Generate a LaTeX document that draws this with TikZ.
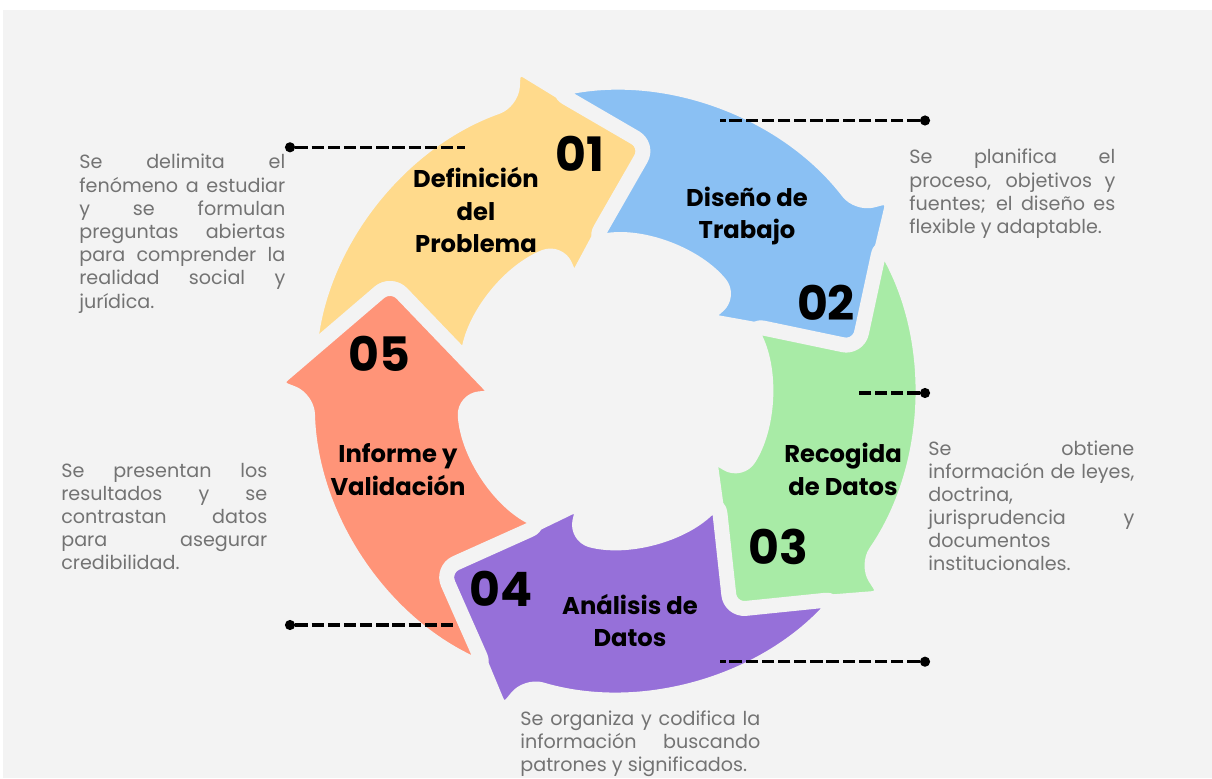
\documentclass[tikz,border=0pt]{standalone}
\usepackage{fontspec}
\setmainfont{Poppins}
\definecolor{bgray}{HTML}{F3F3F3}
\definecolor{cyellow}{HTML}{FFDA8C}
\definecolor{cblue}{HTML}{8AC0F3}
\definecolor{cgreen}{HTML}{A8EBA6}
\definecolor{cpurple}{HTML}{9670D9}
\definecolor{corange}{HTML}{FF9478}
\definecolor{txtgray}{HTML}{737373}

\begin{document}
\begin{tikzpicture}[x=0.02cm, y=0.02cm,
        seg/.style={draw=bgray, line width=8.5pt, line join=round, rounded corners=8.8pt},
        num/.style={font=\fontsize{27}{27}\selectfont\bfseries},
        lbl/.style={font=\fontsize{13.8}{18.7}\selectfont\bfseries, align=center},
        desc/.style={font=\fontsize{10.9}{13.2}\selectfont, text=txtgray, align=justify,
            text width=4.12cm, inner sep=0pt, anchor=base west},
        lead/.style={line width=1.8pt, dash pattern=on 7pt off 2.2pt},
        dot/.style={circle, fill=black, inner sep=0pt, minimum size=5.8pt}]
        
        \fill[white] (0,0) rectangle (1212,778);
        \fill[bgray] (3,0) rectangle (1212,768);
        
        % the five arrows of the cycle
        \begin{scope}[shift={(614,387)}, rotate=0]
            \path[seg, fill=cyellow] (173.4:307) arc[start angle=173.4, end angle=109.5, radius=307]
                -- (107:343) -- (82:248) -- (111:113) -- (111.5:150)
                arc[start angle=111.5, end angle=170.1, radius=150] -- (154:248) -- cycle;
        \end{scope}
        \begin{scope}[shift={(614,387)}, rotate=-72]
            \path[seg, fill=cblue] (173.4:307) arc[start angle=173.4, end angle=109.5, radius=307]
                -- (107:343) -- (82:248) -- (111:113) -- (111.5:150)
                arc[start angle=111.5, end angle=170.1, radius=150] -- (154:248) -- cycle;
        \end{scope}
        \begin{scope}[shift={(614,387)}, rotate=-144]
            \path[seg, fill=cgreen] (173.4:307) arc[start angle=173.4, end angle=109.5, radius=307]
                -- (107:343) -- (82:248) -- (111:113) -- (111.5:150)
                arc[start angle=111.5, end angle=170.1, radius=150] -- (154:248) -- cycle;
        \end{scope}
        \begin{scope}[shift={(614,387)}, rotate=-216]
            \path[seg, fill=cpurple] (173.4:307) arc[start angle=173.4, end angle=109.5, radius=307]
                -- (107:343) -- (82:248) -- (111:113) -- (111.5:150)
                arc[start angle=111.5, end angle=170.1, radius=150] -- (154:248) -- cycle;
        \end{scope}
        \begin{scope}[shift={(614,387)}, rotate=-288]
            \path[seg, fill=corange] (173.4:307) arc[start angle=173.4, end angle=109.5, radius=307]
                -- (107:343) -- (82:248) -- (111:113) -- (111.5:150)
                arc[start angle=111.5, end angle=170.1, radius=150] -- (154:248) -- cycle;
        \end{scope}
        
        % numbers and titles
        \node[num] (n1) at (580,624.5) {01};
        \node[num] (n2) at (826,475.5) {02};
        \node[num] (n3) at (778,231) {03};
        \node[num] (n4) at (501,189) {04};
        \node[num] (n5) at (379.5,424) {05};
        
        \node[lbl] (l1) at (476,568) {Definición\\del\\Problema};
        \node[lbl] (l2) at (747,562) {Diseño de\\Trabajo};
        \node[lbl] (l3) at (843,308.5) {Recogida\\de Datos};
        \node[lbl] (l4) at (630,157.5) {Análisis de\\Datos};
        \node[lbl] (l5) at (398,308) {Informe y\\Validación};
        
        % leaders
        \node[dot] (p1) at (290,630.7) {};
        \node[dot] (p2) at (925,657.5) {};
        \node[dot] (p3) at (925,385) {};
        \node[dot] (p4) at (925,116.3) {};
        \node[dot] (p5) at (290,153) {};
        \coordinate (e1) at (465,630.7);
        \coordinate (e2) at (720,657.5);
        \coordinate (e3) at (858,385);
        \coordinate (e4) at (720,116.3);
        \coordinate (e5) at (455,153);
        \draw[lead] (p1) -- (e1);
        \draw[lead] (p2) -- (e2);
        \draw[lead] (p3) -- (e3);
        \draw[lead] (p4) -- (e4);
        \draw[lead] (p5) -- (e5);
        
        % descriptions
        \node[desc] (t1) at (79,609) {Se delimita el\linebreak fenómeno a estudiar\linebreak y se formulan\linebreak preguntas abiertas\linebreak para comprender la\linebreak realidad social y\linebreak jurídica.};
        \node[desc] (t2) at (909,614) {Se planifica el\linebreak proceso, objetivos y\linebreak fuentes; el diseño es\linebreak flexible y adaptable.};
        \node[desc] (t3) at (928,323) {Se obtiene\linebreak información de leyes,\linebreak doctrina,\\ jurisprudencia y\linebreak documentos\\ institucionales.};
        \node[desc, text width=4.8cm] (t4) at (520,53) {Se organiza y codifica la\linebreak información buscando\linebreak patrones y significados.};
        \node[desc] (t5) at (61,301) {Se presentan los\linebreak resultados y se\linebreak contrastan datos\linebreak para asegurar\linebreak credibilidad.};
    \end{tikzpicture}
\end{document}
